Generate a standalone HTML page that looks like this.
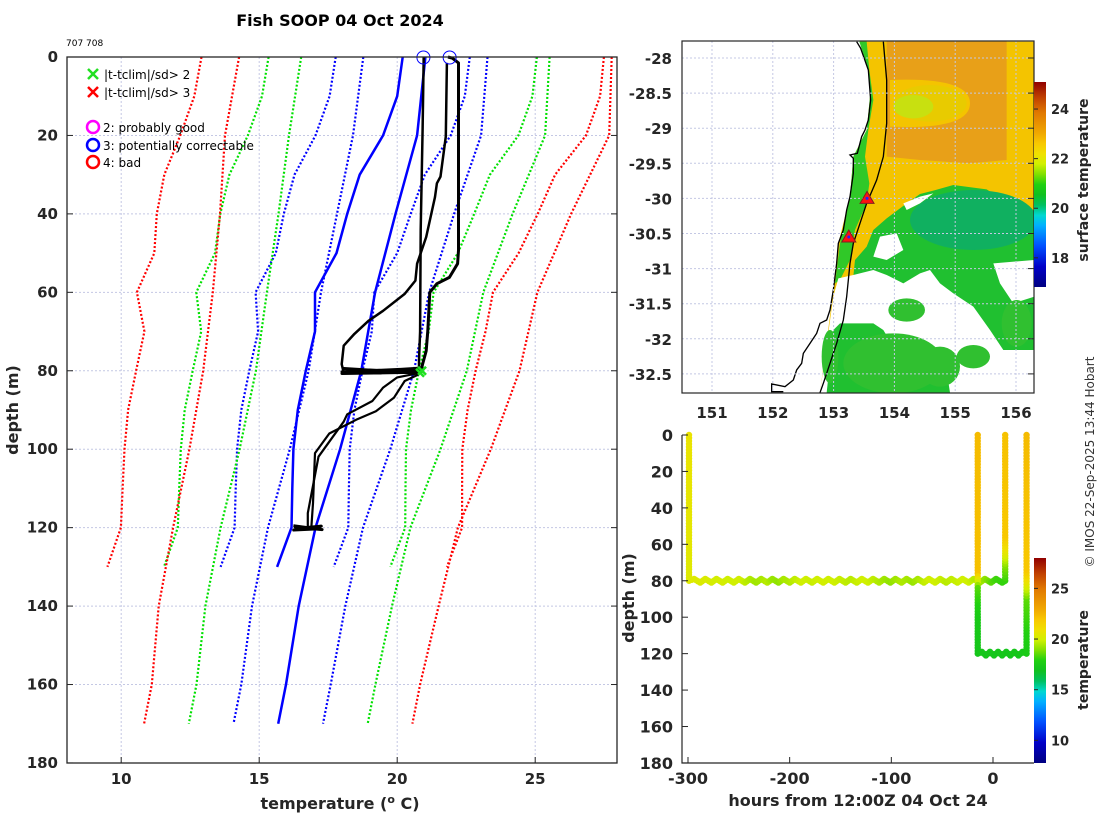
<!DOCTYPE html>
<html><head><meta charset="utf-8"><style>
body{margin:0;background:#fff;}
svg{display:block;font-family:"DejaVu Sans","Liberation Sans",sans-serif;}
.tk{font-size:15px;font-weight:bold;fill:#262626;}
.lab{font-size:16px;font-weight:bold;fill:#262626;}
.grid{stroke:#c4c8e4;stroke-width:1;stroke-dasharray:2 2;}
</style></head><body>
<svg id="root" width="1100" height="820" viewBox="0 0 1100 820" xmlns="http://www.w3.org/2000/svg">
<defs>
<linearGradient id="cmap" x1="0" y1="1" x2="0" y2="0">
<stop offset="0" stop-color="#000080"/><stop offset="0.1" stop-color="#0000c8"/><stop offset="0.2" stop-color="#0050ff"/><stop offset="0.3" stop-color="#00b0ff"/><stop offset="0.35" stop-color="#00d8d0"/><stop offset="0.4" stop-color="#00c060"/><stop offset="0.45" stop-color="#10c020"/><stop offset="0.5" stop-color="#20d010"/><stop offset="0.55" stop-color="#80e000"/><stop offset="0.6" stop-color="#d0f000"/><stop offset="0.65" stop-color="#f0e000"/><stop offset="0.7" stop-color="#f8c800"/><stop offset="0.75" stop-color="#f0a800"/><stop offset="0.85" stop-color="#e07800"/><stop offset="0.925" stop-color="#c04000"/><stop offset="1" stop-color="#900000"/>
</linearGradient>
<clipPath id="mapclip"><rect x="682" y="41" width="352" height="352"/></clipPath>
</defs>

<text x="340" y="26" text-anchor="middle" style="font-size:16px;font-weight:bold">Fish SOOP 04 Oct 2024</text>
<text x="66" y="46" style="font-size:9px">707 708</text>

<g id="main"></g>

<!-- MAP -->
<g>
<g clip-path="url(#mapclip)">
<g transform="translate(620 30) scale(0.33333)">
<polygon fill="#f4c400" points="720,35 1243,35 1243,1088 600,1088 640,780 655,640 690,500 700,380 740,300 750,200 745,120"/>
<path fill="#e8a018" fill-rule="evenodd" d="M800,35 L1160,35 L1160,390 L1050,400 L900,390 L800,380 Z M810,150 Q1050,140 1050,220 Q1050,300 810,290 Z"/>
<ellipse cx="930" cy="220" rx="110" ry="55" fill="#e0d000" opacity="0.6"/>
<ellipse cx="880" cy="230" rx="60" ry="35" fill="#c8e010"/>
<polygon fill="#30c828" points="718,35 740,35 748,120 760,210 745,300 735,380 748,460 740,520 705,600 690,690 660,750 645,760 660,640 680,540 690,500 700,380 740,300 750,200 745,120"/>
<polygon fill="#20c030" points="1243,540 1200,555 1150,510 1100,478 1000,465 940,482 900,492 860,520 800,565 760,600 740,650 705,690 700,740 660,745 600,1088 1243,1088"/>
<ellipse cx="1060" cy="570" rx="190" ry="90" fill="#10b060"/>
<g fill="#ffffff">
<polygon points="655,745 700,735 760,720 800,735 850,760 900,730 930,720 960,760 1000,790 1060,830 1110,900 1150,960 1243,960 1243,1088 990,1088 975,990 900,1000 840,990 820,950 790,900 760,880 700,880 660,880 640,900 620,1088 600,1088 640,800"/>
<polygon points="850,520 900,500 940,490 900,520 860,540"/>
<polygon points="1120,700 1243,690 1243,800 1180,820 1140,760"/>
<polygon points="780,620 830,610 850,660 800,690 760,680"/>
</g>
<g fill="#30c030">
<ellipse cx="820" cy="1000" rx="150" ry="90"/>
<ellipse cx="960" cy="1010" rx="60" ry="60"/>
<ellipse cx="630" cy="980" rx="25" ry="80"/>
<ellipse cx="1060" cy="980" rx="50" ry="35"/>
<ellipse cx="860" cy="840" rx="55" ry="35"/>
<ellipse cx="1190" cy="880" rx="45" ry="70"/>
</g>
<polyline fill="none" stroke="#000" stroke-width="4" points="710,35 722,55 745,120 752,210 745,270 735,300 725,320 712,370 690,375 700,385 700,430 690,500 680,540 670,600 655,640 650,700 640,780 630,840 620,870 600,880 590,910 570,940 550,970 545,1000 530,1020 520,1050 495,1070 455,1062 455,1085 490,1085"/>
<polyline fill="none" stroke="#000" stroke-width="4" points="790,35 800,150 800,280 790,380 770,450 740,520 720,580 700,640 690,700 680,800 670,870 650,940 630,1000 610,1060 600,1088"/>
</g>
</g>
<g id="mapaxes"></g>
</g>

<!-- TIME PLOT -->
<g id="tplot"></g>

<text transform="translate(1094 462) rotate(-90)" text-anchor="middle" style="font-size:12px;fill:#333">© IMOS 22-Sep-2025 13:44 Hobart</text>
</svg>
<script>
// ---------- main profile chart data ----------
const climDepthA = [0,10,20,30,40,50,60,70,80,90,100,110,120,130];
const climMeanA = [20.2,20.0,19.49,18.64,18.19,17.8,17.02,17.02,16.69,16.4,16.24,16.2,16.17,15.65];
const climSdA = [2.43,2.45,2.45,2.36,2.3,2.2,2.15,2.06,2.05,2.05,2.04,2.05,2.06,2.05];
const climDepthB = [0,20,40,60,80,100,120,140,160,170];
const climMeanB = [21.02,20.72,19.94,19.2,18.7,17.93,17.04,16.43,15.97,15.69];
const climSdB = [2.25,2.32,2.12,1.96,1.91,1.82,1.72,1.69,1.62,1.62];
const tempTicks = [10,15,20,25];
const depthTicks = [0,20,40,60,80,100,120,140,160,180];

const castATemp = [20.96,20.92,20.85,20.83,20.79,20.79];
const castADepth = [0,18.5,44,70,77.5,80];
const castBTemp = [21.84,22.0,22.22,22.22,22.19,21.89,21.44,21.18,21.11,21.05,20.92,20.85];
const castBDepth = [0,0.3,1.5,49.3,52.7,56.2,57.8,60,69.8,74.9,78.3,80.5];
const castCTemp = [21.8,21.76,21.57,21.44,21.37,21.05,20.72,20.66,20.27,19.49,18.97,18.45,18.06,17.99,18.06];
const castCDepth = [1.5,20.3,30.5,32.2,35.7,45.9,52.7,57,60.4,64.7,67.2,70.6,73.6,78.3,80.5];
const castDTemp = [20.85,20.0,19.49,19.1,18.19,18.06,17.15,16.76,16.76];
const castDDepth = [80.5,81.7,84.3,87.7,91.1,93,101.9,116.3,119.7];
const castETemp = [20.79,20.27,19.88,19.23,18.51,17.54,17.02,16.95,16.89];
const castEDepth = [80.9,82.6,86.9,90.3,92.5,96,101,113.8,119.7];
const band80Temp = [18.0,20.8,18.1,20.7,18.0,20.9,18.2,20.8,18.0,20.6,18.1,20.8];
const band80Depth = [79.4,80.6,79.5,80.4,80.7,79.3,80.5,79.6,80.3,79.5,80.6,80.0];
const band120Temp = [16.24,17.28,16.3,17.2,16.25,17.25,16.4,17.1];
const band120Depth = [119.5,120.5,119.8,120.3,120.6,119.6,120.2,119.9];
const flagTemp = [20.9];
const flagDepth = [80];
const qcCircleTemp = [20.95,21.9];
const qcCircleDepth = [0,0];

// ---------- time plot data ----------
const tow1Hours = [-299,-299,-299,-294,-288,-283,-277,-272,-266,-261,-255,-250,-244,-239,-233,-228,-222,-217,-211,-206,-200,-195,-189,-184,-178,-173,-167,-162,-156,-151,-145,-140,-134,-129,-123,-118,-112,-107,-101,-96,-90,-85,-79,-74,-68,-63,-57,-52,-46,-41,-35,-30,-24,-19,-13,-8,-2,3,9,12,12,12,12,12];
const tow1Depths = [0,60,80,79,81,79,81,79,81,79,81,79,81,79,81,79,81,79,81,79,81,79,81,79,81,79,81,79,81,79,81,79,81,79,81,79,81,79,81,79,81,79,81,79,81,79,81,79,81,79,81,79,81,79,81,79,81,79,81,80,72,65,55,0];
const tow1Temps = [20.8,20.6,20.4,20.4,20.3,20.3,20.2,20.1,20.2,20.0,20.0,20.1,19.8,19.6,19.4,19.5,19.7,19.3,19.2,19.5,19.6,19.8,20.0,20.0,19.9,20.0,20.1,20.0,20.0,19.9,19.8,19.7,19.9,20.0,20.0,19.8,19.6,19.4,19.2,19.4,19.6,19.5,19.3,19.5,19.8,20.0,20.0,19.9,19.7,19.8,19.9,20.0,20.0,19.7,19.5,19.2,18.6,18.3,18.2,18.2,19.0,20.5,22.0,22.2];
const tow2Hours = [-15,-15,-15,-15,-15,-11,-7,-3,1,5,9,13,17,21,25,29,33,33,33,33,33];
const tow2Depths = [0,76,84,100,120,119,121,119,121,119,121,119,121,119,121,119,120,90,82,74,0];
const tow2Temps = [22.4,22.2,18.6,17.6,17.3,17.4,17.3,17.4,17.3,17.3,17.4,17.3,17.3,17.4,17.3,17.5,17.6,18.6,20.5,22.0,22.4];
const tCbarTicks = [10,15,20,25];
const timeTicks = [-300,-200,-100,0];
const tDepthTicks = [0,20,40,60,80,100,120,140,160,180];

// ---------- map data ----------
const lonTicks = [151,152,153,154,155,156];
const latTicks = [-28,-28.5,-29,-29.5,-30,-30.5,-31,-31.5,-32,-32.5];
const dropLon = [153.55,153.25];
const dropLat = [-30.0,-30.55];
const sstCbarTicks = [18,20,22,24];

const NS='http://www.w3.org/2000/svg';
function mk(tag, attrs, parent, text){
  const e=document.createElementNS(NS,tag);
  for(const k in attrs) e.setAttribute(k,attrs[k]);
  if(text!==undefined) e.textContent=text;
  parent.appendChild(e); return e;
}
const main=document.getElementById('main');
const xT=t=>66+(t-8)*27.6;
const yD=d=>57+d*3.922;
const P0={l:67,r:617,t:57,b:763};

tempTicks.forEach(t=>{const g=mk('line',{x1:xT(t),x2:xT(t),y1:P0.t,y2:P0.b,class:'grid'},main);

});
depthTicks.slice(1,-1).forEach(d=>{const g=mk('line',{x1:P0.l,x2:P0.r,y1:yD(d),y2:yD(d),class:'grid'},main);

});

function climLines(depths,means,sds,setName){
  const specs=[[-3,'#ff0000'],[-2,'#00e000'],[-1,'#0000ff'],[1,'#0000ff'],[2,'#00e000'],[3,'#ff0000']];
  specs.forEach(([k,c])=>{
    const pts=depths.map((d,i)=>xT(means[i]+k*sds[i]).toFixed(1)+','+yD(d).toFixed(1)).join(' ');
    const pl=mk('polyline',{points:pts,fill:'none',stroke:c,'stroke-width':2.2,'stroke-dasharray':'2 2'},main);
    
    
  });
  const pts=depths.map((d,i)=>xT(means[i]).toFixed(1)+','+yD(d).toFixed(1)).join(' ');
  const m=mk('polyline',{points:pts,fill:'none',stroke:'#0000ff','stroke-width':2.5},main);
  
  
}
climLines(climDepthA,climMeanA,climSdA,'clim-a');
climLines(climDepthB,climMeanB,climSdB,'clim-b');

function blk(ts,ds,name,w){
  const pts=ts.map((t,i)=>xT(t).toFixed(1)+','+yD(ds[i]).toFixed(1)).join(' ');
  const p=mk('polyline',{points:pts,fill:'none',stroke:'#000','stroke-width':w,'stroke-linejoin':'round'},main);
  
  
}
blk(castATemp,castADepth,'cast-a-profile',2.5);
blk(castBTemp,castBDepth,'cast-b-profile',3);
blk(castCTemp,castCDepth,'cast-c-profile',2.5);
blk(castDTemp,castDDepth,'cast-d-profile',2.2);
blk(castETemp,castEDepth,'cast-e-profile',2.2);
blk(band80Temp,band80Depth,'band-80m',3);
blk(band120Temp,band120Depth,'band-120m',3);

flagTemp.forEach((t,i)=>{const x=xT(t),y=yD(flagDepth[i]);
 const g=mk('path',{d:`M${x-4},${y-4}L${x+4},${y+4}M${x-4},${y+4}L${x+4},${y-4}M${x-6},${y-2}L${x+2},${y+6}`,stroke:'#20e020','stroke-width':2.5},main);
 
 });
qcCircleTemp.forEach((t,i)=>{const c=mk('circle',{cx:xT(t),cy:yD(qcCircleDepth[i])+0.5,r:6.5,fill:'none',stroke:'#0000ff','stroke-width':1},main);
 
 });

const box=mk('rect',{x:P0.l,y:P0.t,width:P0.r-P0.l,height:P0.b-P0.t,fill:'none',stroke:'#262626','stroke-width':1.3},main);


depthTicks.forEach(d=>{
  mk('line',{x1:P0.l,x2:P0.l+6,y1:yD(d),y2:yD(d),stroke:'#262626'},main);
  mk('line',{x1:P0.r-6,x2:P0.r,y1:yD(d),y2:yD(d),stroke:'#262626'},main);
  const t=mk('text',{x:58,y:yD(d)+5,'text-anchor':'end',class:'tk'},main,String(d));
  
  
});
tempTicks.forEach(v=>{
  mk('line',{x1:xT(v),x2:xT(v),y1:P0.b-6,y2:P0.b,stroke:'#262626'},main);
  const t=mk('text',{x:xT(v),y:784,'text-anchor':'middle',class:'tk'},main,String(v));
  
  
});
let xl=mk('text',{x:340,y:809,'text-anchor':'middle',class:'lab'},main);
xl.innerHTML='temperature (<tspan dy="-6" font-size="11">o</tspan><tspan dy="6"> C)</tspan>';


let yl=mk('text',{transform:'translate(18 410) rotate(-90)','text-anchor':'middle',class:'lab'},main,'depth (m)');



const lg=mk('g',{},main);


[['#22e022','|t-tclim|/sd> 2',74],['#ff0000','|t-tclim|/sd> 3',92]].forEach(([c,s,y])=>{
  const p=mk('path',{d:`M88,${y-5}L98,${y+5}M88,${y+5}L98,${y-5}`,stroke:c,'stroke-width':2.5},lg);
  
  
  const t=mk('text',{x:104,y:y+5,style:'font-size:12px'},lg,s);
  
  
});
[['#ff00ff','2: probably good',127],['#0000ff','3: potentially correctable',145],['#ff0000','4: bad',162]].forEach(([c,s,y])=>{
  const p=mk('circle',{cx:93,cy:y,r:6,fill:'none',stroke:c,'stroke-width':2.5},lg);
  
  
  const t=mk('text',{x:103,y:y+5,style:'font-size:12px'},lg,s);
  
  
});

// ---------- map axes ----------
const ma=document.getElementById('mapaxes');
const xLon=l=>712+(l-151)*60.8;
const yLat=a=>58+(-28-a)*70.2;
lonTicks.forEach(l=>{
  const g=mk('line',{x1:xLon(l),x2:xLon(l),y1:41,y2:393,class:'grid'},ma);
  
  
  const t=mk('text',{x:xLon(l),y:418,'text-anchor':'middle',class:'tk'},ma,String(l));
  
  
});
latTicks.forEach(a=>{
  const g=mk('line',{x1:682,x2:1034,y1:yLat(a),y2:yLat(a),class:'grid'},ma);
  
  
  mk('line',{x1:1028,x2:1034,y1:yLat(a),y2:yLat(a),stroke:'#262626'},ma);
  const t=mk('text',{x:672,y:yLat(a)+6,'text-anchor':'end',class:'tk'},ma,String(a));
  
  
});
dropLon.forEach((l,i)=>{const x=xLon(l),y=yLat(dropLat[i]);
  const p=mk('polygon',{points:`${x},${y-7} ${x-7},${y+5} ${x+7},${y+5}`,fill:'#ff1010',stroke:'#802020','stroke-width':1},ma);
  
  
  mk('circle',{cx:x,cy:y,r:1.5,fill:'#2020ff'},ma);
});
const mb=mk('rect',{x:682,y:41,width:352,height:352,fill:'none',stroke:'#262626','stroke-width':1.2},ma);


const yS=v=>82+(25.09-v)*24.8;
const cb=mk('rect',{x:1034,y:82,width:12,height:205,fill:'url(#cmap)'},ma);


sstCbarTicks.forEach(v=>{
  mk('line',{x1:1034,x2:1038,y1:yS(v),y2:yS(v),stroke:'#262626'},ma);
  const t=mk('text',{x:1051,y:yS(v)+5,class:'tk',style:'font-size:13px'},ma,String(v));
  
  
});
const sl=mk('text',{transform:'translate(1088 180) rotate(-90)','text-anchor':'middle',class:'lab',style:'font-size:14px'},ma,'surface temperature');



// ---------- time plot ----------
const tp=document.getElementById('tplot');
const xH=h=>993+h*1.0167;
const yD2=d=>435+d*1.822;
const stops=[[8,[0,0,128]],[10,[0,0,200]],[12,[0,80,255]],[14,[0,176,255]],[15,[0,216,208]],[16,[0,192,96]],[17,[16,192,32]],[18,[32,208,16]],[19,[128,224,0]],[20,[208,240,0]],[21,[240,224,0]],[22,[248,200,0]],[23,[240,168,0]],[25,[224,120,0]],[26.5,[192,64,0]],[28,[144,0,0]]];
function cmap(v){
  if(v<=stops[0][0]) return 'rgb('+stops[0][1]+')';
  for(let i=1;i<stops.length;i++){ if(v<=stops[i][0]){const [a,ca]=stops[i-1],[b,cb2]=stops[i];const f=(v-a)/(b-a);
    return 'rgb('+ca.map((c,j)=>Math.round(c+(cb2[j]-c)*f)).join(',')+')';}}
  return 'rgb('+stops[stops.length-1][1]+')';
}
function tow(hs,ds,ts,name){
  const g=mk('g',{},tp);
  
  
  for(let i=0;i<hs.length-1;i++){
    const x1=xH(hs[i]),y1=yD2(ds[i]),x2=xH(hs[i+1]),y2=yD2(ds[i+1]);
    const n=Math.max(1,Math.ceil(Math.hypot(x2-x1,y2-y1)/3));
    for(let k=0;k<n;k++){const f=k/n;
      mk('circle',{cx:x1+(x2-x1)*f,cy:y1+(y2-y1)*f,r:3.2,fill:cmap(ts[i]+(ts[i+1]-ts[i])*f)},g);
    }
  }
  const e=hs.length-1;
  mk('circle',{cx:xH(hs[e]),cy:yD2(ds[e]),r:3.2,fill:cmap(ts[e])},g);
}
tow(tow1Hours,tow1Depths,tow1Temps,'tow-1-track');
tow(tow2Hours,tow2Depths,tow2Temps,'tow-2-track');
const tb=mk('path',{d:'M682,435 L682,763 L1034,763',fill:'none',stroke:'#262626','stroke-width':1.2},tp);


tDepthTicks.forEach(d=>{
  mk('line',{x1:682,x2:688,y1:yD2(d),y2:yD2(d),stroke:'#262626'},tp);
  const t=mk('text',{x:673,y:yD2(d)+6,'text-anchor':'end',class:'tk',style:'font-size:16px'},tp,String(d));
  
  
});
timeTicks.forEach(h=>{
  mk('line',{x1:xH(h),x2:xH(h),y1:757,y2:763,stroke:'#262626'},tp);
  const t=mk('text',{x:xH(h),y:784,'text-anchor':'middle',class:'tk',style:'font-size:16px'},tp,String(h));
  
  
});
const hx=mk('text',{x:858,y:806,'text-anchor':'middle',class:'lab'},tp,'hours from 12:00Z 04 Oct 24');


const hy=mk('text',{transform:'translate(634 598) rotate(-90)','text-anchor':'middle',class:'lab'},tp,'depth (m)');


const yC=v=>558+(28-v)*10.13;
const tcb=mk('rect',{x:1034,y:558,width:12,height:205,fill:'url(#cmap)'},tp);


tCbarTicks.forEach(v=>{
  mk('line',{x1:1034,x2:1038,y1:yC(v),y2:yC(v),stroke:'#262626'},tp);
  const t=mk('text',{x:1051,y:yC(v)+5,class:'tk',style:'font-size:13px'},tp,String(v));
  
  
});
const tl=mk('text',{transform:'translate(1088 660) rotate(-90)','text-anchor':'middle',class:'lab',style:'font-size:14px'},tp,'temperature');


</script>
</body></html>
